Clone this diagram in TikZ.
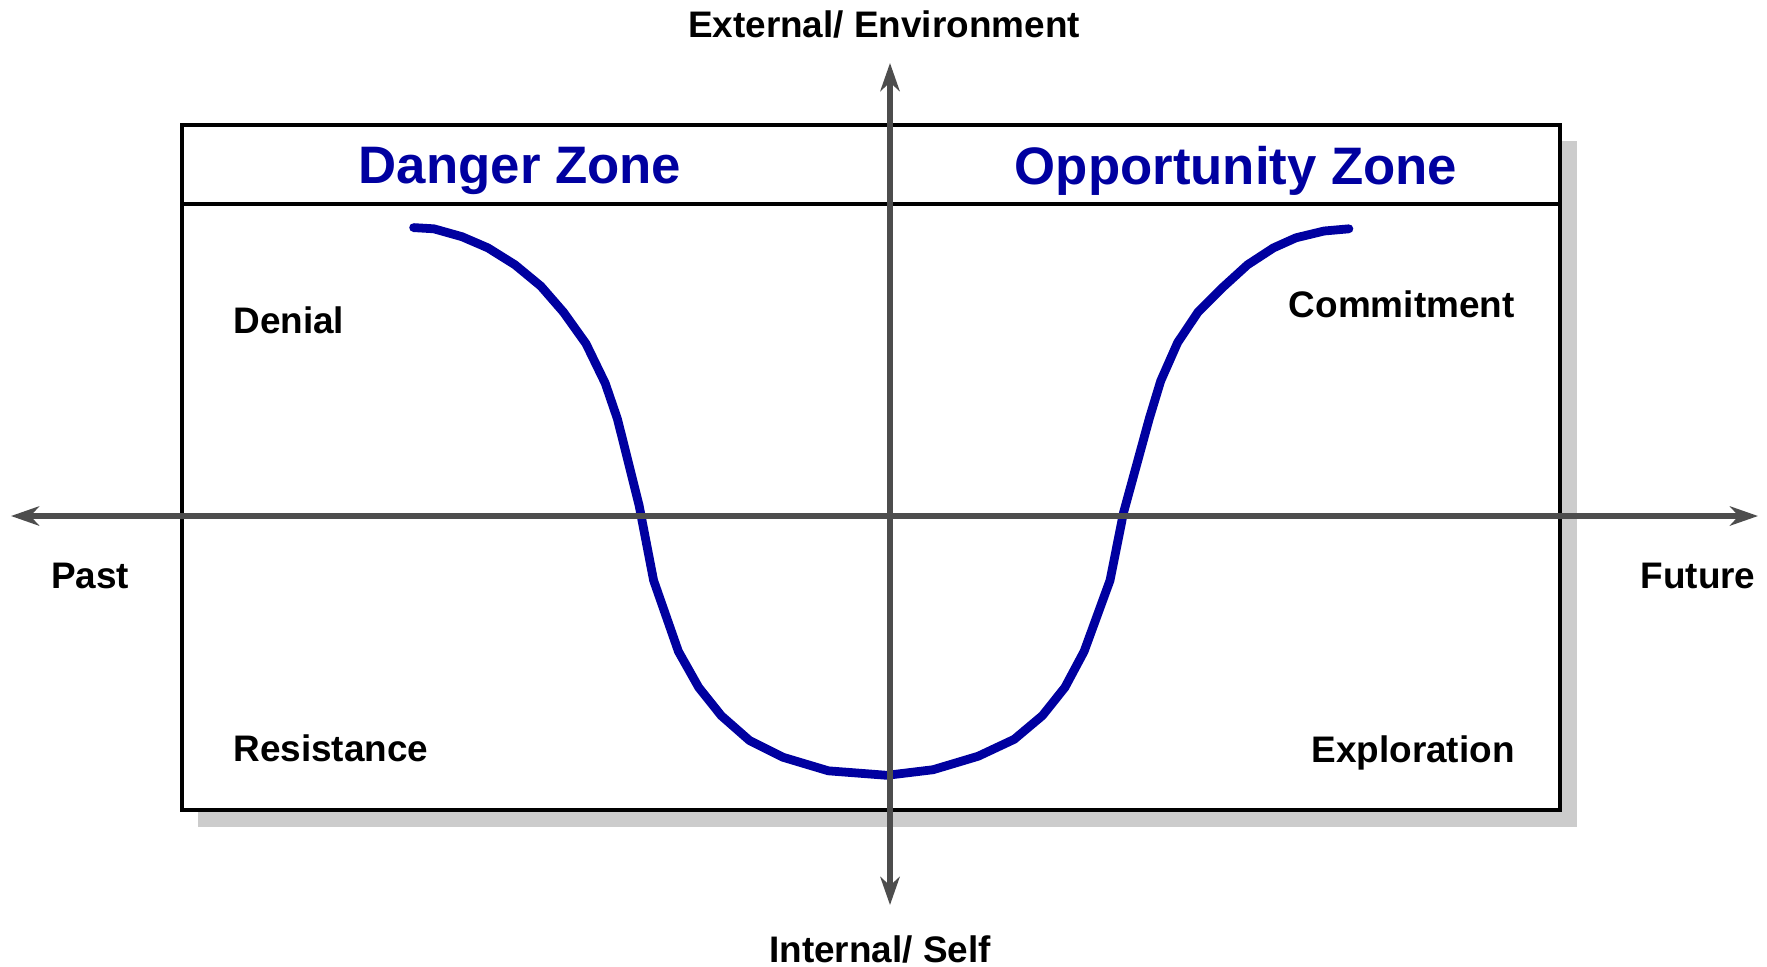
\documentclass[tikz,border=0pt]{standalone}
\usepackage{fontspec}
\setmainfont{Liberation Sans}
\usetikzlibrary{arrows.meta}

\definecolor{zoneblue}{RGB}{0,0,160}
\definecolor{axisgray}{RGB}{77,77,77}
\definecolor{shadowgray}{RGB}{204,204,204}

\tikzset{
  axis/.style={<->, axisgray, line width=1.7pt},
  curve/.style={zoneblue, line width=2.5pt, line join=round, line cap=round},
  zonetitle/.style={text=zoneblue, font=\fontsize{15}{18}\selectfont\bfseries},
  phase/.style={font=\fontsize{10.5}{12}\selectfont\bfseries},
}

\begin{document}
\begin{tikzpicture}[x=0.01cm, y=-0.01cm, >={Stealth[length=8pt,width=5.5pt,inset=2.5pt]}]
    \useasboundingbox (0,0) rectangle (1767,966);
    % Frame with drop shadow
    \fill[shadowgray] (198,141) rectangle (1577,827);
    \draw[fill=white, line width=1pt] (182,125) rectangle (1560,810);
    \draw[line width=1pt] (182,204) -- (1560,204);
    % Zone titles
    \node[zonetitle] (danger) at (520,171) {Danger Zone};
    \node[zonetitle] (opportunity) at (1236,171) {Opportunity Zone};
    % Transition curve
    \draw[curve] plot coordinates {
        (413.6,227.6) (433.9,228.8) (462.0,236.7) (488.0,247.9) (515.0,264.8)
        (540.9,286.2) (563.5,312.2) (586.0,343.7) (605.2,383.2) (617.5,419.2)
        (639.0,504.9) (653.6,580.4) (678.4,651.4) (698.7,687.4) (721.2,715.6)
        (749.4,740.4) (783.2,757.3) (828.3,770.8) (886.9,775.3) (933.1,769.7)
        (978.2,756.2) (1014.2,739.3) (1042.4,715.6) (1064.9,687.4) (1084.1,651.4)
        (1110.0,580.4) (1123.5,512.7) (1149.4,418.1) (1160.7,380.9) (1177.6,342.6)
        (1197.9,312.2) (1222.7,287.4) (1247.5,264.8) (1273.4,247.9) (1295.9,237.8)
        (1324.1,231.0) (1348.9,228.8)};
    % Axes
    \coordinate (pastend) at (11,516);
    \coordinate (futureend) at (1758,516);
    \coordinate (extend) at (890,63);
    \coordinate (intend) at (890,905);
    \draw[axis] (pastend) -- (futureend);
    \draw[axis] (intend) -- (extend);
    % Axis labels
    \node[phase] (external) at (884,24) {External/ Environment};
    \node[phase] (internal) at (880,949) {Internal/ Self};
    \node[phase] (past) at (90,576) {Past};
    \node[phase] (future) at (1698,576) {Future};
    % Phases
    \node[phase, anchor=west] (denial) at (221,320) {Denial};
    \node[phase, anchor=west] (resistance) at (221,748) {Resistance};
    \node[phase, anchor=east] (commitment) at (1527,304) {Commitment};
    \node[phase, anchor=east] (exploration) at (1527,753) {Exploration};
\end{tikzpicture}
\end{document}
